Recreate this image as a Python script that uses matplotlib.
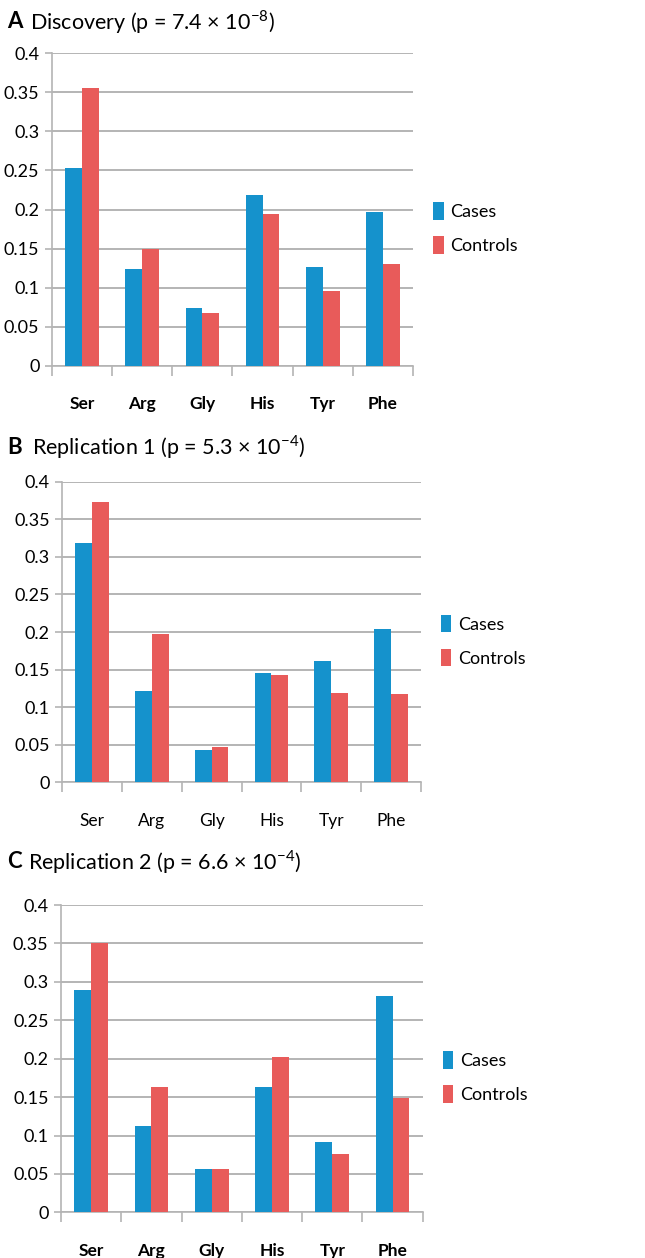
import numpy as np
import matplotlib.pyplot as plt

plt.rcParams['font.family'] = ['Lato', 'DejaVu Sans']
plt.rcParams['mathtext.fontset'] = 'custom'
plt.rcParams['mathtext.rm'] = 'Lato'

# -------------------------
# Data
# -------------------------
amino = ["Ser", "Arg", "Gly", "His", "Tyr", "Phe"]

disc_cases = [0.253, 0.124, 0.074, 0.219, 0.127, 0.197]
disc_controls = [0.356, 0.149, 0.068, 0.194, 0.096, 0.130]

rep1_cases = [0.318, 0.122, 0.043, 0.146, 0.162, 0.204]
rep1_controls = [0.373, 0.197, 0.047, 0.143, 0.119, 0.117]

rep2_cases = [0.290, 0.112, 0.057, 0.163, 0.091, 0.282]
rep2_controls = [0.350, 0.163, 0.057, 0.202, 0.076, 0.149]

yticks = [0, 0.05, 0.1, 0.15, 0.2, 0.25, 0.3, 0.35, 0.4]
ytick_labels = ["0", "0.05", "0.1", "0.15", "0.2", "0.25", "0.3", "0.35", "0.4"]

BLUE = "#1592cc"
RED = "#e85b5a"
GRID = "#b4b4b4"

fig = plt.figure(figsize=(6.45, 12.58), dpi=100)


def panel(rect, cases, controls, letter, title, title_y, letter_x, title_x,
          label_bold, legend_y):
    ax = fig.add_axes(rect)
    x = np.arange(len(amino))
    w = 0.28
    ax.bar(x - w / 2, cases, width=w, color=BLUE, label="Cases", zorder=3)
    ax.bar(x + w / 2, controls, width=w, color=RED, label="Controls", zorder=3)

    ax.set_xlim(-0.5, len(amino) - 0.5)
    ax.set_ylim(0, 0.4)
    ax.set_yticks(yticks)
    ax.set_yticklabels(ytick_labels, fontsize=13)
    ax.yaxis.grid(True, color=GRID, linewidth=1.4, zorder=0)
    ax.set_axisbelow(True)

    # category boundaries get the tick marks, names sit in between
    ax.set_xticks(np.arange(-0.5, len(amino)))
    ax.set_xticklabels([])
    ax.set_xticks(x, minor=True)
    ax.set_xticklabels(amino, minor=True, fontsize=12.5,
                       fontweight="bold" if label_bold else "normal")
    ax.tick_params(axis="x", which="minor", length=0, pad=22)
    ax.tick_params(axis="x", which="major", length=7, color=GRID, width=1.2)
    ax.tick_params(axis="y", length=5, color=GRID, width=1.2, pad=4)

    for s in ["top", "right"]:
        ax.spines[s].set_visible(False)
    for s in ["left", "bottom"]:
        ax.spines[s].set_color(GRID)
        ax.spines[s].set_linewidth(1.2)

    ax.legend(loc="center left", bbox_to_anchor=(1.01, legend_y),
              frameon=False, fontsize=13, handlelength=0.6,
              handleheight=1.1, handletextpad=0.35, labelspacing=0.9)

    fig.text(letter_x, title_y, letter, fontsize=16, fontweight="bold",
             va="center", ha="left")
    fig.text(title_x, title_y, title, fontsize=15.5, va="center", ha="left")
    return ax


panel([0.0806, 0.7093, 0.5597, 0.2483], disc_cases, disc_controls,
      "A", r"Discovery (p = 7.4 × 10$^{\mathregular{-8}}$)",
      1 - 22 / 1258, 7 / 645, 30 / 645, True, 0.44)
panel([0.0966, 0.3781, 0.5557, 0.2390], rep1_cases, rep1_controls,
      "B", r"Replication 1 (p = 5.3 × 10$^{\mathregular{-4}}$)",
      1 - 447 / 1258, 7 / 645, 32 / 645, False, 0.47)
panel([0.0946, 0.0363, 0.5608, 0.2443], rep2_cases, rep2_controls,
      "C", r"Replication 2 (p = 6.6 × 10$^{\mathregular{-4}}$)",
      1 - 862 / 1258, 7 / 645, 28 / 645, True, 0.44)

fig.savefig("out.png", dpi=100)
